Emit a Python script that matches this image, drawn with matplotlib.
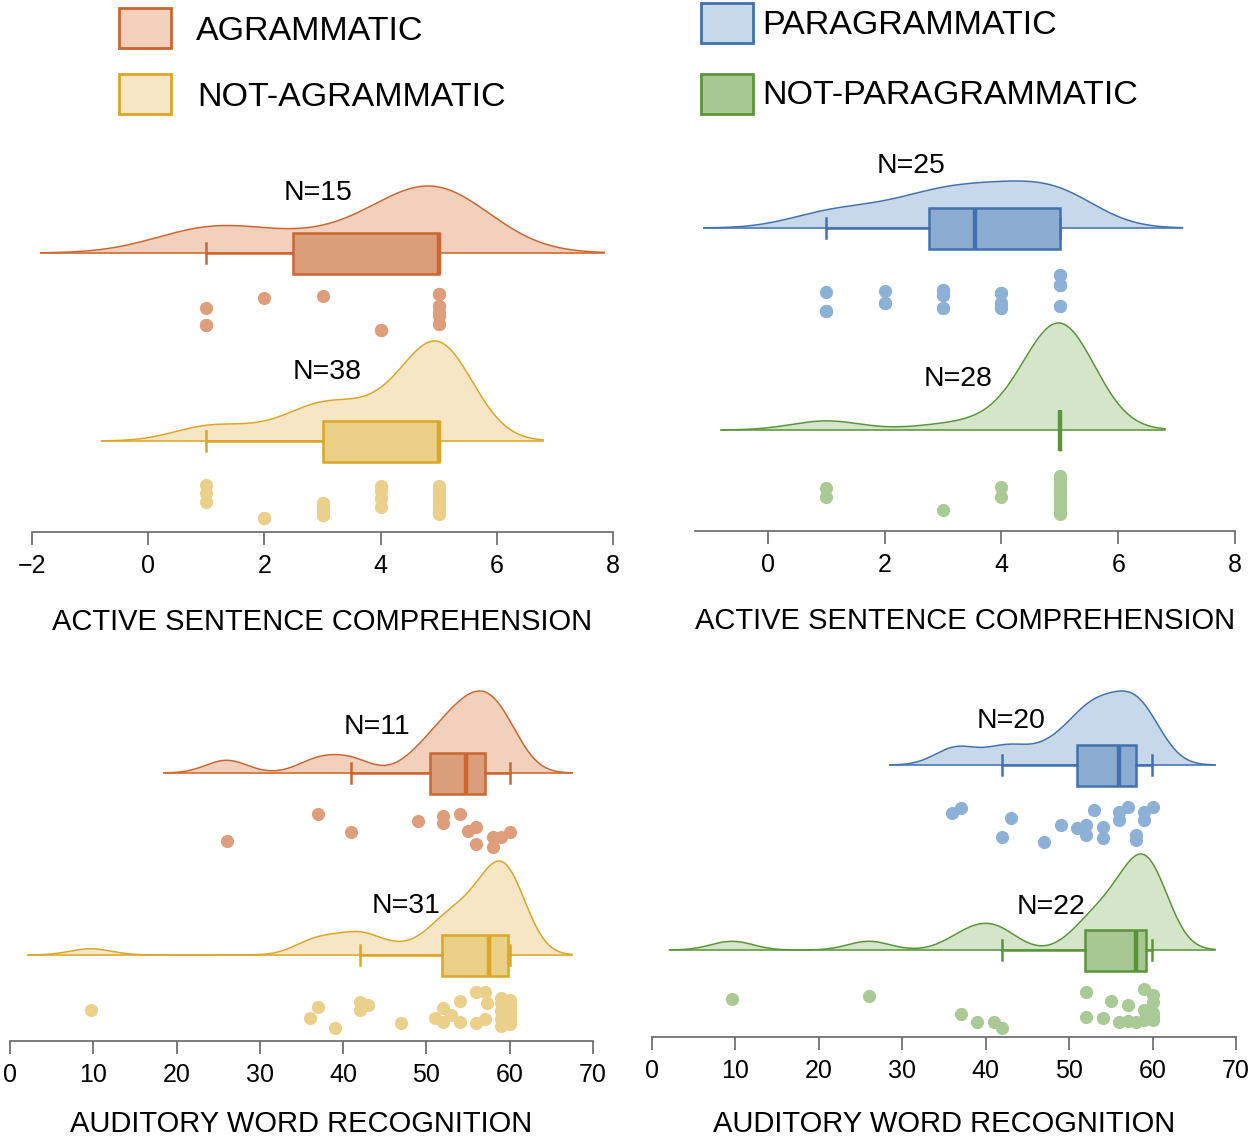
import numpy as np
import matplotlib
matplotlib.use("Agg")
import matplotlib.pyplot as plt
from matplotlib.patches import Rectangle

plt.rcParams['font.family'] = ['Liberation Sans', 'DejaVu Sans']

W, H = 1253, 1142

# ---- values ----
# top row: active sentence comprehension
agr_asc = [1, 1, 1, 2, 3, 4, 4, 5, 5, 5, 5, 5, 5, 5, 5]
agr_asc_jit = [55, 72, 72, 45, 43, 77, 77, 41, 53, 59, 63, 71, 71, 53, 41]
agr_asc_box = [2.5, 5, 5, 1, 5]            # q1, median, q3, whisker lo, whisker hi

nagr_asc = [1, 1, 1, 2, 2, 3, 3, 3, 3, 3, 3, 3, 4, 4, 4, 4, 4] + [5] * 21
nagr_asc_jit = [44, 52, 61, 77, 77, 62, 69, 74, 62, 69, 74, 66, 45, 50, 57, 66, 57,
                45, 46, 48, 49, 51, 52, 54, 55, 57, 58, 60, 61, 63, 64, 66, 67, 69, 70, 71, 72, 73]
nagr_asc_box = [3, 5, 5, 1, 5]

par_asc = [1, 1, 1, 2, 2, 2, 3, 3, 3, 3, 3, 3, 4, 4, 4, 4, 4, 4, 5, 5, 5, 5, 5, 5, 5]
par_asc_jit = [64, 83, 83, 63, 75, 75, 62, 67, 80, 62, 67, 80, 65, 75, 80, 65, 75, 80,
               47, 57, 78, 47, 57, 78, 57]
par_asc_box = [2.75, 3.54, 5, 1, 5]

npar_asc = [1, 1, 3, 4, 4] + [5] * 23
npar_asc_jit = [58, 67, 80, 57, 67, 46, 47, 49, 51, 53, 54, 56, 58, 59, 61, 63, 64,
                66, 68, 70, 71, 73, 75, 76, 78, 80, 82, 84]
npar_asc_box = [5, 5, 5, 5, 5]

# bottom row: auditory word recognition
agr_awr = [26, 37, 41, 49, 52, 52, 54, 55, 56, 56, 58, 58, 59, 60]
agr_awr_jit = [68, 41, 59, 48, 43, 50, 41, 58, 54, 71, 64, 74, 64, 59]
agr_awr_box = [50.4, 54.8, 57.0, 41, 60]

nagr_awr = [9.7, 36, 37, 39, 42, 43, 42, 47, 51, 52, 53, 52, 54, 54, 56, 57, 56, 57, 57.3,
            59, 60, 59, 60, 60, 59, 60, 60, 59, 60, 60, 59]
nagr_awr_jit = [55, 63, 52, 73, 47, 50, 55, 68, 63, 53, 60, 67, 46, 67, 37, 37, 68, 64, 48,
                43, 45, 48, 50, 53, 56, 58, 61, 64, 66, 69, 71]
nagr_awr_box = [51.9, 57.5, 59.8, 42, 60]

par_awr = [36, 37, 43, 42, 47, 49, 51, 52, 52, 53, 54, 54, 56, 56, 57, 58, 58, 59, 59, 60]
par_awr_jit = [48, 43, 53, 72, 77, 60, 63, 60, 70, 45, 62, 73, 47, 55, 42, 70, 75, 47, 55, 42]
par_awr_box = [50.9, 56.0, 58.0, 41.9, 59.9]

npar_awr = [9.6, 26, 37, 39, 41, 42, 52, 52, 54, 55, 57, 56, 57, 58, 59, 60, 60, 59, 60, 59, 60, 60]
npar_awr_jit = [49, 46, 64, 72, 72, 78, 42, 67, 68, 51, 55, 72, 71, 72, 39, 45, 52, 60, 67, 70, 70, 63]
npar_awr_box = [51.9, 58.0, 59.2, 41.9, 59.9]

# colours
ORANGE = dict(line='#CB6630', cloud='#F2D0BC', box='#DB9E7A', dot='#DE9E7C')
YELLOW = dict(line='#DBA628', cloud='#F7E6C4', box='#EACF87', dot='#EBD08C')
BLUE = dict(line='#4272AE', cloud='#C8D8EB', box='#8CACD1', dot='#8DB0D6')
GREEN = dict(line='#5B9539', cloud='#D5E5CA', box='#A8C893', dot='#A9C995')


def kde(vals, bw, n=300):
    v = np.asarray(vals, float)
    xs = np.linspace(v.min() - 3 * bw, v.max() + 3 * bw, n)
    d = np.exp(-0.5 * ((xs[:, None] - v[None, :]) / bw) ** 2).sum(axis=1)
    return xs, d / d.max()


def raincloud(ax, vals, jit, box, bw, base, peak, c, nxy):
    xs, d = kde(vals, bw)
    ax.fill_between(xs, base, base + peak * d, color=c['cloud'], lw=0, zorder=1)
    ax.plot(xs, base + peak * d, color=c['line'], lw=1.1, zorder=2)
    ax.plot([xs[0], xs[-1]], [base, base], color=c['line'], lw=1.1, zorder=2)
    q1, med, q3, lo, hi = box
    stats = [dict(q1=q1, med=med, q3=q3, whislo=lo, whishi=hi, fliers=[])]
    ax.bxp(stats, positions=[base], widths=41, capwidths=20, orientation='horizontal',
           patch_artist=True, showfliers=False, manage_ticks=False, zorder=3,
           boxprops=dict(facecolor=c['box'], edgecolor=c['line'], lw=1.8),
           medianprops=dict(color=c['line'], lw=3.2),
           whiskerprops=dict(color=c['line'], lw=1.8),
           capprops=dict(color=c['line'], lw=1.8))
    ax.scatter(vals, base - np.asarray(jit), s=90, color=c['dot'], lw=0, zorder=4)
    ax.text(nxy[0], nxy[1], nxy[2], ha='center', va='center', fontsize=20.5, zorder=5)


def make_axes(fig, left, right, bottom, top, xlim, ticks, xlabel, lpad):
    ax = fig.add_axes([left / W, 1 - bottom / H, (right - left) / W, (bottom - top) / H])
    ax.set_xlim(*xlim)
    ax.set_ylim(0, bottom - top)
    for s in ['top', 'right', 'left']:
        ax.spines[s].set_visible(False)
    ax.spines['bottom'].set_color('#666666')
    ax.spines['bottom'].set_linewidth(1.2)
    ax.set_yticks([])
    ax.set_xticks(ticks)
    ax.set_xticklabels([str(t).replace('-', '\u2212') for t in ticks])
    ax.tick_params(axis='x', direction='out', length=9.5, width=1.2, color='#666666',
                   labelsize=18, pad=6)
    ax.set_xlabel(xlabel, fontsize=21, labelpad=lpad)
    ax.patch.set_alpha(0)
    return ax


fig = plt.figure(figsize=(W / 100, H / 100), dpi=100)

# top left
ax = make_axes(fig, 32, 613, 532, 140, (-2, 8), [-2, 0, 2, 4, 6, 8],
               'ACTIVE SENTENCE COMPREHENSION', 22)
raincloud(ax, agr_asc, agr_asc_jit, agr_asc_box, 0.95, 279, 67, ORANGE, (2.93, 339, 'N=15'))
raincloud(ax, nagr_asc, nagr_asc_jit, nagr_asc_box, 0.6, 91, 100, YELLOW, (3.08, 160, 'N=38'))

# top right
ax = make_axes(fig, 695, 1235, 531, 140, (-1.25, 8), [0, 2, 4, 6, 8],
               'ACTIVE SENTENCE COMPREHENSION', 22)
raincloud(ax, par_asc, par_asc_jit, par_asc_box, 0.7, 303, 47, BLUE, (2.45, 365, 'N=25'))
raincloud(ax, npar_asc, npar_asc_jit, npar_asc_box, 0.6, 101, 107, GREEN, (3.25, 152, 'N=28'))

# bottom left
ax = make_axes(fig, 10, 593, 1041, 650, (0, 70), [0, 10, 20, 30, 40, 50, 60, 70],
               'AUDITORY WORD RECOGNITION', 17)
raincloud(ax, agr_awr, agr_awr_jit, agr_awr_box, 2.5, 268, 82, ORANGE, (44.1, 314, 'N=11'))
raincloud(ax, nagr_awr, nagr_awr_jit, nagr_awr_box, 2.5, 86, 94, YELLOW, (47.5, 135, 'N=31'))

# bottom right
ax = make_axes(fig, 652, 1236, 1037, 650, (0, 70), [0, 10, 20, 30, 40, 50, 60, 70],
               'AUDITORY WORD RECOGNITION', 20)
raincloud(ax, par_awr, par_awr_jit, par_awr_box, 2.5, 272, 74, BLUE, (43.0, 316, 'N=20'))
raincloud(ax, npar_awr, npar_awr_jit, npar_awr_box, 2.5, 87, 96, GREEN, (47.8, 130, 'N=22'))

# legend squares + labels
legend = [(119, 8, ORANGE['cloud'], ORANGE['line'], 196, 31, 'AGRAMMATIC'),
          (119, 74, YELLOW['cloud'], YELLOW['line'], 197, 97, 'NOT-AGRAMMATIC'),
          (701, 3, BLUE['cloud'], BLUE['line'], 762, 25, 'PARAGRAMMATIC'),
          (701, 74, GREEN['box'], GREEN['line'], 762, 96, 'NOT-PARAGRAMMATIC')]
for x0, y0, fc, ec, tx, ty, lab in legend:
    fig.add_artist(Rectangle((x0 / W, 1 - (y0 + 40) / H), 52 / W, 40 / H, transform=fig.transFigure,
                             facecolor=fc, edgecolor=ec, lw=2))
    fig.text(tx / W, 1 - ty / H, lab, ha='left', va='center', fontsize=24.5)

fig.savefig('out.png', dpi=100)
